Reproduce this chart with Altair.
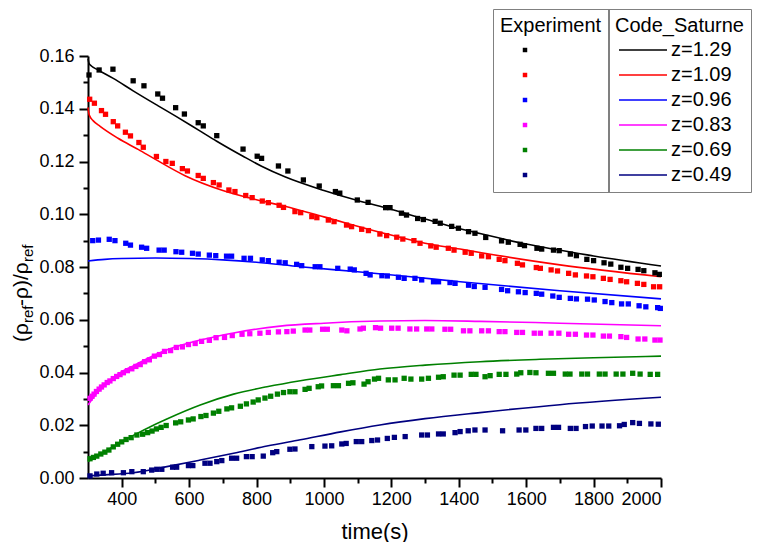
import altair as alt
import pandas as pd

FONT = "Liberation Sans"

series_labels = ["z=1.29", "z=1.09", "z=0.96", "z=0.83", "z=0.69", "z=0.49"]
series_colors = ["#000000", "#ff0000", "#0000ff", "#ff00ff", "#008000", "#000080"]

x_major = [400, 600, 800, 1000, 1200, 1400, 1600, 1800, 2000]
x_minor = [500, 700, 900, 1100, 1300, 1500, 1700, 1900]
y_major = [0.0, 0.02, 0.04, 0.06, 0.08, 0.10, 0.12, 0.14, 0.16]
y_minor = [0.01, 0.03, 0.05, 0.07, 0.09, 0.11, 0.13, 0.15]

# ---------------- Experiment (squares) ----------------
exp_t_129 = [303, 333, 374, 434, 466, 507, 521, 560, 586, 627, 642, 682, 760, 802, 815, 865,
             893, 939, 986, 1034, 1047, 1099, 1131, 1183, 1196, 1230, 1245, 1278, 1295, 1330, 1345,
             1379, 1399, 1429, 1448, 1480, 1527, 1547, 1582, 1595, 1632, 1646, 1681, 1698, 1731,
             1749, 1780, 1800, 1831, 1851, 1881, 1901, 1932, 1949, 1982, 1995]
exp_v_129 = [.1528, .1547, .1550, .1506, .1487, .1456, .1440, .1404, .1380, .1347, .1335, .1298,
             .1247, .1220, .1212, .1183, .1164, .1130, .1107, .1086, .1080, .1054, .1045, .1025,
             .1025, .1004, .0997, .0984, .0980, .0973, .0966, .0954, .0947, .0934, .0928, .0912,
             .0899, .0894, .0886, .0881, .0871, .0868, .0864, .0862, .0849, .0843, .0829, .0824,
             .0816, .0811, .0799, .0795, .0791, .0786, .0778, .0772]

exp_t_109 = [305, 319, 340, 352, 375, 388, 411, 426, 451, 464, 503, 531, 550, 580, 595, 627, 642,
             672, 689, 718, 736, 768, 787, 817, 835, 867, 880, 914, 931, 964, 979, 1013, 1030, 1067,
             1082, 1112, 1132, 1166, 1186, 1216, 1234, 1267, 1285, 1317, 1333, 1369, 1386, 1419,
             1437, 1468, 1488, 1520, 1537, 1574, 1589, 1630, 1642, 1674, 1693, 1726, 1746, 1779,
             1798, 1829, 1849, 1881, 1898, 1930, 1949, 1978, 1996]
exp_v_109 = [.1436, .1421, .1393, .1379, .1351, .1335, .1311, .1297, .1272, .1254, .1219, .1200,
             .1193, .1173, .1164, .1147, .1136, .1120, .1111, .1092, .1086, .1071, .1063, .1050,
             .1044, .1034, .1026, .1010, .1006, .0991, .0987, .0978, .0972, .0959, .0953, .0943,
             .0938, .0925, .0919, .0913, .0906, .0900, .0890, .0880, .0875, .0871, .0864, .0856,
             .0852, .0842, .0839, .0829, .0824, .0814, .0808, .0798, .0795, .0789, .0785, .0776,
             .0770, .0766, .0763, .0757, .0753, .0748, .0744, .0738, .0734, .0725, .0725]

exp_t_096 = [314, 331, 363, 380, 412, 426, 459, 474, 511, 526, 561, 578, 610, 627, 660, 679, 711,
             726, 763, 782, 817, 835, 867, 885, 919, 934, 974, 988, 1041, 1078, 1090, 1125, 1137,
             1172, 1188, 1221, 1238, 1270, 1290, 1325, 1340, 1374, 1389, 1429, 1446, 1478, 1527,
             1545, 1577, 1597, 1630, 1646, 1679, 1698, 1731, 1749, 1782, 1802, 1834, 1854, 1883,
             1903, 1935, 1955, 1990, 1998]
exp_v_096 = [.0900, .0902, .0905, .0900, .0890, .0883, .0875, .0871, .0864, .0864, .0858, .0856,
             .0852, .0849, .0845, .0843, .0841, .0841, .0833, .0833, .0827, .0824, .0818, .0816,
             .0810, .0805, .0801, .0801, .0795, .0792, .0789, .0776, .0770, .0767, .0766, .0761,
             .0757, .0757, .0751, .0744, .0744, .0741, .0738, .0731, .0726, .0723, .0715, .0710,
             .0706, .0703, .0700, .0697, .0690, .0685, .0681, .0679, .0678, .0675, .0669, .0665,
             .0660, .0660, .0653, .0649, .0646, .0643]

exp_t_083 = [306, 312, 318, 325, 333, 340, 348, 357, 365, 375, 385, 395, 405, 417, 430, 442, 455,
             468, 482, 497, 512, 527, 545, 562, 580, 598, 618, 637, 660, 680, 705, 728, 757, 780,
             810, 835, 865, 890, 909, 944, 958, 996, 1010, 1053, 1068, 1107, 1117, 1153, 1168, 1201,
             1220, 1255, 1275, 1305, 1320, 1359, 1376, 1414, 1433, 1468, 1488, 1520, 1537, 1572,
             1589, 1624, 1642, 1674, 1697, 1726, 1746, 1779, 1798, 1829, 1847, 1881, 1898, 1932,
             1952, 1982, 1997]
exp_v_083 = [.0302, .0310, .0318, .0328, .0337, .0345, .0353, .0362, .0368, .0377, .0385, .0392,
             .0399, .0407, .0414, .0423, .0430, .0441, .0448, .0462, .0468, .0480, .0483, .0495,
             .0497, .0506, .0510, .0518, .0522, .0532, .0533, .0540, .0545, .0547, .0549, .0552,
             .0554, .0555, .0557, .0561, .0561, .0564, .0564, .0561, .0558, .0565, .0568, .0570,
             .0568, .0568, .0568, .0565, .0565, .0565, .0565, .0564, .0564, .0558, .0558, .0558,
             .0558, .0555, .0555, .0552, .0552, .0549, .0549, .0549, .0549, .0545, .0545, .0542,
             .0542, .0538, .0538, .0536, .0533, .0527, .0527, .0523, .0523]

exp_t_069 = [306, 316, 326, 338, 350, 362, 375, 388, 400, 413, 428, 445, 462, 477, 490, 503, 517,
             532, 560, 575, 598, 612, 635, 650, 672, 688, 712, 726, 752, 770, 790, 805, 825, 842,
             862, 880, 899, 914, 944, 956, 983, 993, 1028, 1043, 1073, 1086, 1119, 1131, 1150, 1162,
             1191, 1211, 1238, 1258, 1290, 1310, 1340, 1354, 1386, 1404, 1437, 1451, 1478, 1493,
             1520, 1540, 1572, 1584, 1611, 1629, 1666, 1681, 1716, 1730, 1765, 1782, 1817, 1834,
             1867, 1887, 1916, 1938, 1968, 1990]
exp_v_069 = [.0073, .0078, .0083, .0091, .0098, .0106, .0118, .0128, .0137, .0146, .0153, .0163,
             .0166, .0172, .0178, .0186, .0192, .0199, .0209, .0213, .0220, .0224, .0233, .0237,
             .0246, .0253, .0262, .0266, .0272, .0281, .0288, .0296, .0303, .0310, .0318, .0324,
             .0327, .0327, .0336, .0340, .0346, .0349, .0350, .0350, .0359, .0361, .0356, .0365,
             .0375, .0378, .0372, .0372, .0378, .0375, .0375, .0378, .0382, .0384, .0390, .0390,
             .0393, .0393, .0384, .0388, .0393, .0393, .0394, .0399, .0400, .0399, .0397, .0397,
             .0394, .0394, .0394, .0394, .0394, .0394, .0394, .0394, .0397, .0394, .0393, .0393]

exp_t_049 = [306, 326, 345, 370, 405, 430, 464, 489, 504, 519, 551, 563, 598, 611, 647, 662, 682,
             697, 726, 741, 770, 787, 820, 848, 860, 899, 914, 964, 1003, 1023, 1053, 1066, 1096,
             1112, 1142, 1159, 1188, 1209, 1241, 1290, 1307, 1340, 1354, 1389, 1404, 1428, 1448,
             1478, 1530, 1579, 1599, 1629, 1646, 1681, 1696, 1731, 1748, 1776, 1796, 1825, 1845,
             1877, 1891, 1916, 1936, 1970, 1992]
exp_v_049 = [.0008, .0015, .0018, .0020, .0020, .0024, .0024, .0030, .0033, .0033, .0041, .0041,
             .0047, .0047, .0056, .0056, .0062, .0066, .0075, .0075, .0081, .0081, .0083, .0096,
             .0100, .0109, .0110, .0119, .0121, .0122, .0129, .0131, .0138, .0138, .0142, .0144,
             .0150, .0154, .0157, .0163, .0163, .0167, .0167, .0172, .0176, .0179, .0182, .0182,
             .0179, .0182, .0182, .0188, .0188, .0192, .0192, .0188, .0188, .0195, .0197, .0197,
             .0197, .0198, .0203, .0210, .0207, .0205, .0204]

# ---------------- Code_Saturne (lines) ----------------
sim_t_129 = [300, 303, 310, 330, 375, 434, 507, 560, 627, 682, 760, 815, 884, 1000, 1100, 1166,
             1300, 1404, 1463, 1600, 1800, 2000]
sim_v_129 = [.1590, .1572, .1562, .1547, .1515, .1468, .1412, .1372, .1320, .1277, .1220, .1182,
             .1142, .1090, .1052, .1030, .0982, .0945, .0927, .0887, .0842, .0804]

sim_t_109 = [300, 302, 306, 315, 336, 389, 450, 500, 588, 700, 800, 884, 1000, 1166, 1300, 1404,
             1463, 1700, 2000]
sim_v_109 = [.1405, .1385, .1370, .1355, .1333, .1288, .1245, .1208, .1146, .1090, .1055, .1030,
             .0990, .0932, .0890, .0868, .0855, .0808, .0763]

sim_t_096 = [300, 350, 400, 500, 600, 700, 800, 930, 1100, 1250, 1404, 1700, 2000]
sim_v_096 = [.0823, .0829, .0832, .0834, .0832, .0827, .0818, .0801, .0782, .0764, .0744, .0710, .0679]

sim_t_083 = [300, 310, 325, 350, 375, 400, 434, 475, 533, 633, 732, 870, 1000, 1166, 1300, 1463,
             1700, 2000]
sim_v_083 = [.0277, .0295, .0320, .0352, .0380, .0403, .0425, .0452, .0485, .0523, .0550, .0576,
             .0587, .0595, .0597, .0594, .0587, .0577]

sim_t_069 = [300, 350, 400, 450, 500, 534, 633, 732, 831, 930, 1050, 1166, 1300, 1463, 1641, 1800,
             2000]
sim_v_069 = [.0062, .0100, .0138, .0172, .0204, .0224, .0277, .0318, .0346, .0369, .0392, .0413,
             .0428, .0441, .0450, .0456, .0462]

sim_t_049 = [300, 350, 434, 534, 633, 732, 831, 930, 1050, 1166, 1300, 1463, 1700, 2000]
sim_v_049 = [.0008, .0012, .0020, .0043, .0068, .0094, .0121, .0145, .0175, .0201, .0225, .0248,
             .0278, .0306]

exp_ts = [exp_t_129, exp_t_109, exp_t_096, exp_t_083, exp_t_069, exp_t_049]
exp_vs = [exp_v_129, exp_v_109, exp_v_096, exp_v_083, exp_v_069, exp_v_049]
sim_ts = [sim_t_129, sim_t_109, sim_t_096, sim_t_083, sim_t_069, sim_t_049]
sim_vs = [sim_v_129, sim_v_109, sim_v_096, sim_v_083, sim_v_069, sim_v_049]

exp_rows, sim_rows = [], []
for lab, ts, vs in zip(series_labels, exp_ts, exp_vs):
    for t, v in zip(ts, vs):
        exp_rows.append({"t": t, "v": v, "exp": lab})
for lab, ts, vs in zip(series_labels, sim_ts, sim_vs):
    for t, v in zip(ts, vs):
        sim_rows.append({"t": t, "v": v, "sim": lab})
exp_df = pd.DataFrame(exp_rows)
sim_df = pd.DataFrame(sim_rows)

x_scale = alt.Scale(domain=[300, 2000], nice=False, zero=False)
y_scale = alt.Scale(domain=[0, 0.16], nice=False, zero=False)

common_axis = dict(domainColor="black", tickColor="black", labelColor="black", grid=False,
                   labelFont=FONT, labelFontSize=18, tickWidth=2, domainWidth=2,
                   labelOverlap=False)

lines = alt.Chart(sim_df).mark_line(strokeWidth=1.6, interpolate="monotone").encode(
    x=alt.X("t:Q", scale=x_scale,
            axis=alt.Axis(values=x_minor, labels=False, domain=False, tickSize=5, title=None,
                          orient="bottom", ticks=True, tickColor="black", tickWidth=2, grid=False)),
    y=alt.Y("v:Q", scale=y_scale,
            axis=alt.Axis(values=y_minor, labels=False, domain=False, tickSize=5, title=None,
                          orient="left", ticks=True, tickColor="black", tickWidth=2, grid=False)),
    color=alt.Color("sim:N", scale=alt.Scale(domain=series_labels, range=series_colors),
                    legend=alt.Legend(title="Code_Saturne", orient="none", legendX=520, legendY=-47,
                                      symbolType="M-4,0H4", symbolSize=144, symbolStrokeWidth=1.6,
                                      symbolOffset=18, labelOffset=18, padding=7, rowPadding=5,
                                      titlePadding=4, strokeColor="#808080")),
)

points = alt.Chart(exp_df).mark_square(size=28, opacity=1).encode(
    x=alt.X("t:Q", scale=x_scale,
            axis=alt.Axis(values=x_major, format="d", title="time(s)", tickSize=9, orient="bottom",
                          labelPadding=3, titlePadding=13, titleFont=FONT, titleFontSize=22,
                          titleFontWeight="normal", titleColor="black", **common_axis)),
    y=alt.Y("v:Q", scale=y_scale,
            axis=alt.Axis(values=y_major, format=".2f", title=None, tickSize=9, orient="left",
                          labelPadding=5, **common_axis)),
    color=alt.Color("exp:N", scale=alt.Scale(domain=series_labels, range=series_colors),
                    legend=alt.Legend(title="Experiment", orient="none", legendX=405, legendY=-47,
                                      symbolType="square", symbolSize=20, labelExpr="' '",
                                      symbolOffset=15, padding=7, rowPadding=5, titlePadding=4,
                                      strokeColor="#808080")),
)

# y-axis title with subscripts: (ρ_ref - ρ)/ρ_ref, rotated
title_text = ["(ρ", "ref", "-ρ)/ρ", "ref"]
title_size = [21, 15, 21, 15]
title_xpos = [-60, -55, -60, -55]
title_ypos = [286, 267, 250, 206]
dummy = pd.DataFrame({"a": [0]})
title_layers = []
for txt, fs, xp, yp in zip(title_text, title_size, title_xpos, title_ypos):
    title_layers.append(
        alt.Chart(dummy).mark_text(angle=270, align="left", baseline="alphabetic", font=FONT,
                                   fontSize=fs, color="black").encode(
            x=alt.value(xp), y=alt.value(yp), text=alt.value(txt))
    )

chart = alt.layer(lines, points, *title_layers).resolve_scale(
    color="independent"
).resolve_axis(x="independent", y="independent").properties(
    width=573, height=422,
    autosize=alt.AutoSizeParams(type="none"),
    padding={"left": 80, "top": 48, "right": 96, "bottom": 64},
).configure_view(stroke=None).configure_legend(
    titleFont=FONT, titleFontSize=20, titleFontWeight="normal", titleColor="black",
    labelFont=FONT, labelFontSize=20, labelColor="black",
)

chart.save("out.html", embed_options={"renderer": "svg", "actions": False})
